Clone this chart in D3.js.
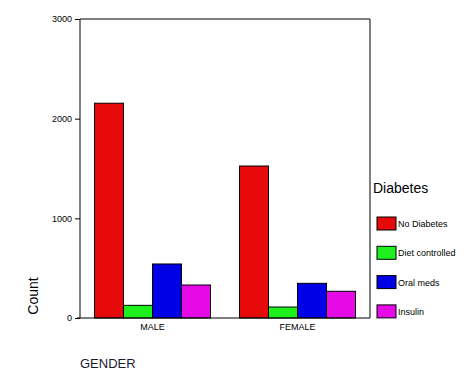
<html>
<head>
<script src="https://d3js.org/d3.v7.min.js"></script>
<style>
body { margin: 0; background: #fff; }
text { font-family: Arial, "Liberation Sans", sans-serif; }
</style>
</head>
<body>
<svg id="chart" width="476" height="381"></svg>
<script>
var genders = ["MALE", "FEMALE"];
var diabetes = ["No Diabetes", "Diet controlled", "Oral meds", "Insulin"];
var colors = ["#e60a0a", "#1ef01e", "#0000e6", "#e60ae6"];
var counts = [
  [2155, 127, 542, 331],   // MALE
  [1525, 110, 348, 268]    // FEMALE
];
var yTicks = [0, 1000, 2000, 3000];

var svg = d3.select("#chart");
var plotL = 80, plotR = 370, plotT = 19, plotB = 318;

var x0 = d3.scaleBand().domain(genders).range([plotL, plotR])
  .paddingInner(0.2).paddingOuter(0.1);
var x1 = d3.scaleBand().domain(diabetes).range([0, x0.bandwidth()]);
var y = d3.scaleLinear().domain([0, 3000]).range([plotB, plotT]);

// frame top and right
svg.append("path")
  .attr("d", "M" + plotL + "," + plotT + "H" + plotR + "V" + plotB)
  .attr("fill", "none").attr("stroke", "#000");

// bars
genders.forEach(function(gd, gi) {
  svg.append("g").selectAll("rect")
    .data(counts[gi])
    .enter().append("rect")
      .attr("x", function(d, i) { return x0(gd) + x1(diabetes[i]); })
      .attr("y", function(d) { return y(d); })
      .attr("width", x1.bandwidth())
      .attr("height", function(d) { return plotB - y(d); })
      .attr("fill", function(d, i) { return colors[i]; })
      .attr("stroke", "#000").attr("stroke-width", 1);
});

var yAxis = svg.append("g")
  .attr("transform", "translate(" + plotL + ",0)")
  .call(d3.axisLeft(y).tickValues(yTicks).tickSize(5).tickPadding(3).tickFormat(d3.format("d")));
yAxis.select(".domain").attr("d", "M0," + plotT + "V" + plotB);
yAxis.selectAll("text").style("font-size", "9px").attr("fill", "#000");

var xAxis = svg.append("g")
  .attr("transform", "translate(0," + plotB + ")")
  .call(d3.axisBottom(x0).tickSize(4).tickSizeOuter(0).tickPadding(2));
xAxis.select(".domain").attr("d", "M" + (plotL - 3) + ",0H" + plotR);
xAxis.selectAll(".tick line").attr("y1", -4).attr("y2", 0);
xAxis.selectAll("text").style("font-size", "9px").attr("fill", "#000");

svg.append("text")
  .attr("transform", "translate(38,296) rotate(-90)")
  .attr("text-anchor", "middle")
  .style("font-size", "14px")
  .text("Count");

svg.append("text")
  .attr("x", 80).attr("y", 368)
  .style("font-size", "13px")
  .attr("fill", "#1a1a33")
  .text("GENDER");

// legend
svg.append("text")
  .attr("x", 373).attr("y", 193)
  .style("font-size", "14px")
  .text("Diabetes");

var leg = svg.append("g").selectAll("g")
  .data(diabetes)
  .enter().append("g")
  .attr("transform", function(d, i) { return "translate(377," + (217 + i * 29.3) + ")"; });
leg.append("rect")
  .attr("width", 19).attr("height", 13)
  .attr("fill", function(d, i) { return colors[i]; })
  .attr("stroke", "#000");
leg.append("text")
  .attr("x", 21).attr("y", 10)
  .style("font-size", "9px")
  .text(function(d) { return d; });
</script>
</body>
</html>
